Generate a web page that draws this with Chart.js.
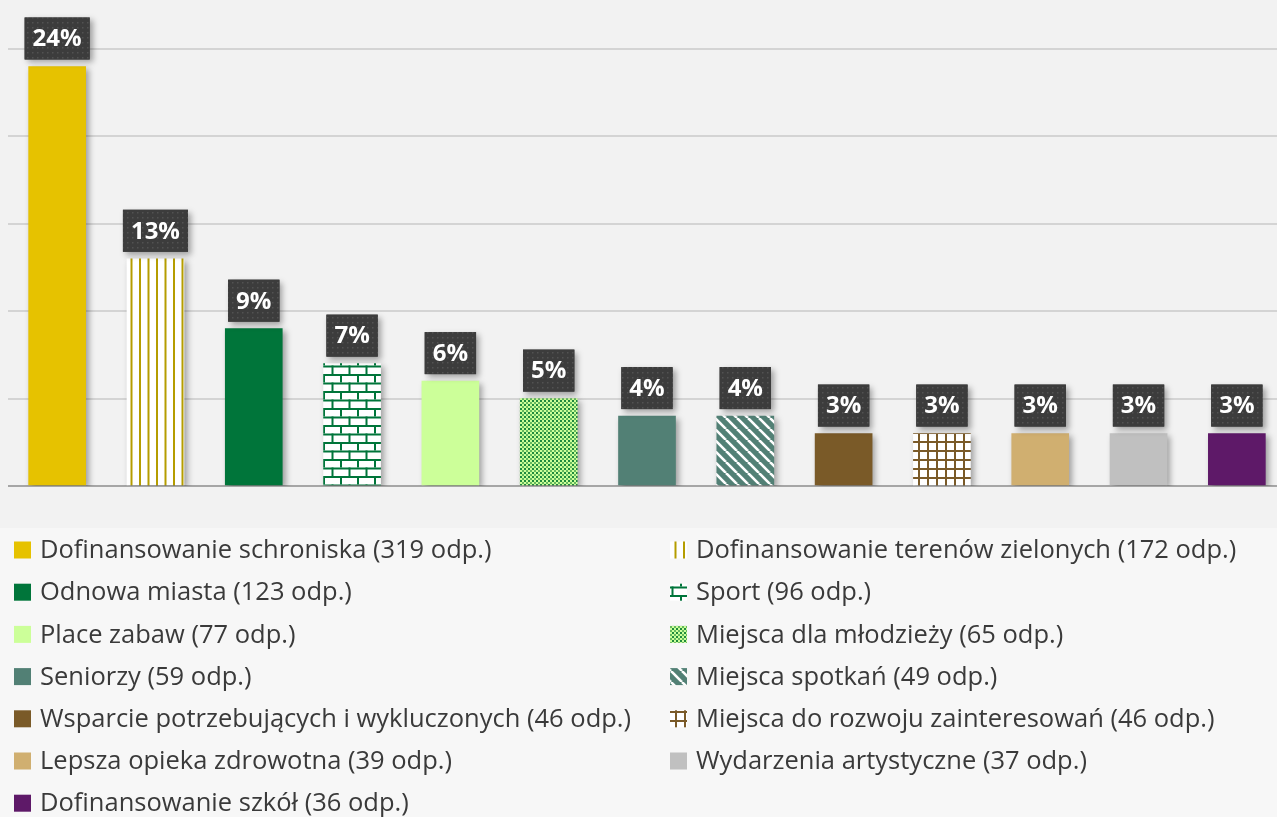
<!DOCTYPE html>
<html>
<head>
<meta charset="utf-8">
<script src="https://cdn.jsdelivr.net/npm/chart.js@4.4.1/dist/chart.umd.min.js"></script>
<style>
    html, body { margin: 0; padding: 0; background: #f7f7f7; overflow: hidden; }
    #wrap { width: 1277px; height: 817px; overflow: hidden; }
</style>
</head>
<body>
<div id="wrap"><canvas id="chart" width="1290" height="817"></canvas></div>
<script>
// Dane wykresu
const categories = [
    "Dofinansowanie schroniska",
    "Dofinansowanie terenów zielonych",
    "Odnowa miasta",
    "Sport",
    "Place zabaw",
    "Miejsca dla młodzieży",
    "Seniorzy",
    "Miejsca spotkań",
    "Wsparcie potrzebujących i wykluczonych",
    "Miejsca do rozwoju zainteresowań",
    "Lepsza opieka zdrowotna",
    "Wydarzenia artystyczne",
    "Dofinansowanie szkół"
];
const responses = [319, 172, 123, 96, 77, 65, 59, 49, 46, 46, 39, 37, 36];
const percents = [24, 13, 9, 7, 6, 5, 4, 4, 3, 3, 3, 3, 3];
const yTicks = [0, 5, 10, 15, 20, 25];

const canvas = document.getElementById("chart");
const ctx = canvas.getContext("2d");

// Tworzenie wzorów (deseni) dla słupków
function makePattern(w, h, draw) {
    const c = document.createElement("canvas");
    c.width = w;
    c.height = h;
    draw(c.getContext("2d"), w, h);
    return ctx.createPattern(c, "repeat");
}

const gold = "#b59d00";
const green = "#00753a";
const teal = "#528075";
const brown = "#7a5a28";

const stripesV = makePattern(17, 10, (g) => {
    g.fillStyle = "#ffffff"; g.fillRect(0, 0, 17, 10);
    g.fillStyle = gold; g.fillRect(3, 0, 2, 10); g.fillRect(11.5, 0, 2, 10);
});
const bricks = makePattern(17, 17, (g) => {
    g.fillStyle = "#ffffff"; g.fillRect(0, 0, 17, 17);
    g.fillStyle = green;
    g.fillRect(0, 0, 17, 2);
    g.fillRect(0, 8.5, 17, 2);
    g.fillRect(0, 0, 2, 8.5);
    g.fillRect(8.5, 8.5, 2, 8.5);
});
const dots = makePattern(4, 4, (g) => {
    g.fillStyle = "#ccff99"; g.fillRect(0, 0, 4, 4);
    g.fillStyle = "#1f8a3e"; g.fillRect(0, 0, 2, 2);
    g.fillStyle = "#63b85e"; g.fillRect(2, 2, 2, 2);
});
const diag = makePattern(11, 11, (g) => {
    g.fillStyle = teal; g.fillRect(0, 0, 11, 11);
    g.strokeStyle = "#ffffff"; g.lineWidth = 2.6;
    for (const off of [-11, 0, 11]) {
        g.beginPath(); g.moveTo(off, 0); g.lineTo(off + 11, 11); g.stroke();
    }
});
const grid = makePattern(9, 9, (g) => {
    g.fillStyle = "#ffffff"; g.fillRect(0, 0, 9, 9);
    g.fillStyle = brown; g.fillRect(0, 0, 9, 2); g.fillRect(0, 0, 2, 9);
});
const labelDots = makePattern(5, 5, (g) => {
    g.fillStyle = "#3c3c3c"; g.fillRect(0, 0, 5, 5);
    g.fillStyle = "#525252"; g.fillRect(2, 2, 1.5, 1.5);
});

const fills = [
    "#e6c200", stripesV, green, bricks, "#ccff99", dots, teal,
    diag, brown, grid, "#d0af70", "#c0c0c0", "#5e1968"
];

// Tło wykresu
const backgroundPlugin = {
    id: "background",
    beforeDraw(chart) {
        const c = chart.ctx;
        c.save();
        c.fillStyle = "#f7f7f7";
        c.fillRect(0, 0, chart.width, chart.height);
        c.fillStyle = "#f2f2f2";
        c.fillRect(0, 0, chart.width, 528);
        c.restore();
    }
};

// Cienie słupków i etykiety z procentami
const labelsPlugin = {
    id: "barLabels",
    beforeDatasetsDraw(chart) {
        const c = chart.ctx;
        c.save();
        c.shadowColor = "rgba(0,0,0,0.35)";
        c.shadowBlur = 6;
        c.shadowOffsetX = 3;
        c.shadowOffsetY = 3;
    },
    afterDatasetsDraw(chart) {
        const c = chart.ctx;
        c.restore();
        const meta = chart.getDatasetMeta(0);
        c.save();
        c.font = "bold 24px 'Open Sans'";
        c.textAlign = "center";
        c.textBaseline = "middle";
        meta.data.forEach((bar, i) => {
            const text = percents[i] + "%";
            const w = c.measureText(text).width + 16;
            const h = 42;
            const x = bar.x - w / 2;
            const y = bar.y - 7 - h;
            c.save();
            c.shadowColor = "rgba(0,0,0,0.35)";
            c.shadowBlur = 6;
            c.shadowOffsetX = 3;
            c.shadowOffsetY = 3;
            c.fillStyle = "#3c3c3c";
            c.fillRect(x, y, w, h);
            c.restore();
            c.fillStyle = labelDots;
            c.fillRect(x, y, w, h);
            c.fillStyle = "#ffffff";
            c.fillText(text, bar.x, y + h / 2 + 1);
        });
        c.restore();
    }
};

// Legenda w dwóch kolumnach
const legendPlugin = {
    id: "twoColLegend",
    afterDraw(chart) {
        const c = chart.ctx;
        c.save();
        c.font = "25.5px 'Open Sans'";
        c.textBaseline = "middle";
        categories.forEach((name, i) => {
            const col = i % 2;
            const row = Math.floor(i / 2);
            const bx = col === 0 ? 14 : 670;
            const cy = 550 + row * 42.2;
            c.fillStyle = fills[i];
            c.fillRect(bx, cy - 8.5, 17, 17);
            c.fillStyle = "#3a3a3a";
            c.fillText(name + " (" + responses[i] + " odp.)", bx + 26, cy + 1);
        });
        c.restore();
    }
};

new Chart(ctx, {
    type: "bar",
    data: {
        labels: categories,
        datasets: [{
            data: percents,
            backgroundColor: fills,
            borderWidth: 0,
            barThickness: 57
        }]
    },
    options: {
        responsive: false,
        animation: false,
        layout: { padding: { left: 8, right: 4, top: 49, bottom: 331 } },
        plugins: {
            legend: { display: false },
            tooltip: { enabled: false }
        },
        scales: {
            x: { display: false },
            y: {
                min: yTicks[0],
                max: yTicks[yTicks.length - 1],
                afterBuildTicks: (s) => { s.ticks = yTicks.map(v => ({ value: v })); },
                ticks: { display: false },
                border: { display: false },
                grid: {
                    drawTicks: false,
                    color: (c) => c.tick.value === 0 ? "#a6a6a6" : "#d4d4d4",
                    lineWidth: 2
                }
            }
        }
    },
    plugins: [backgroundPlugin, labelsPlugin, legendPlugin]
});
</script>
</body>
</html>
